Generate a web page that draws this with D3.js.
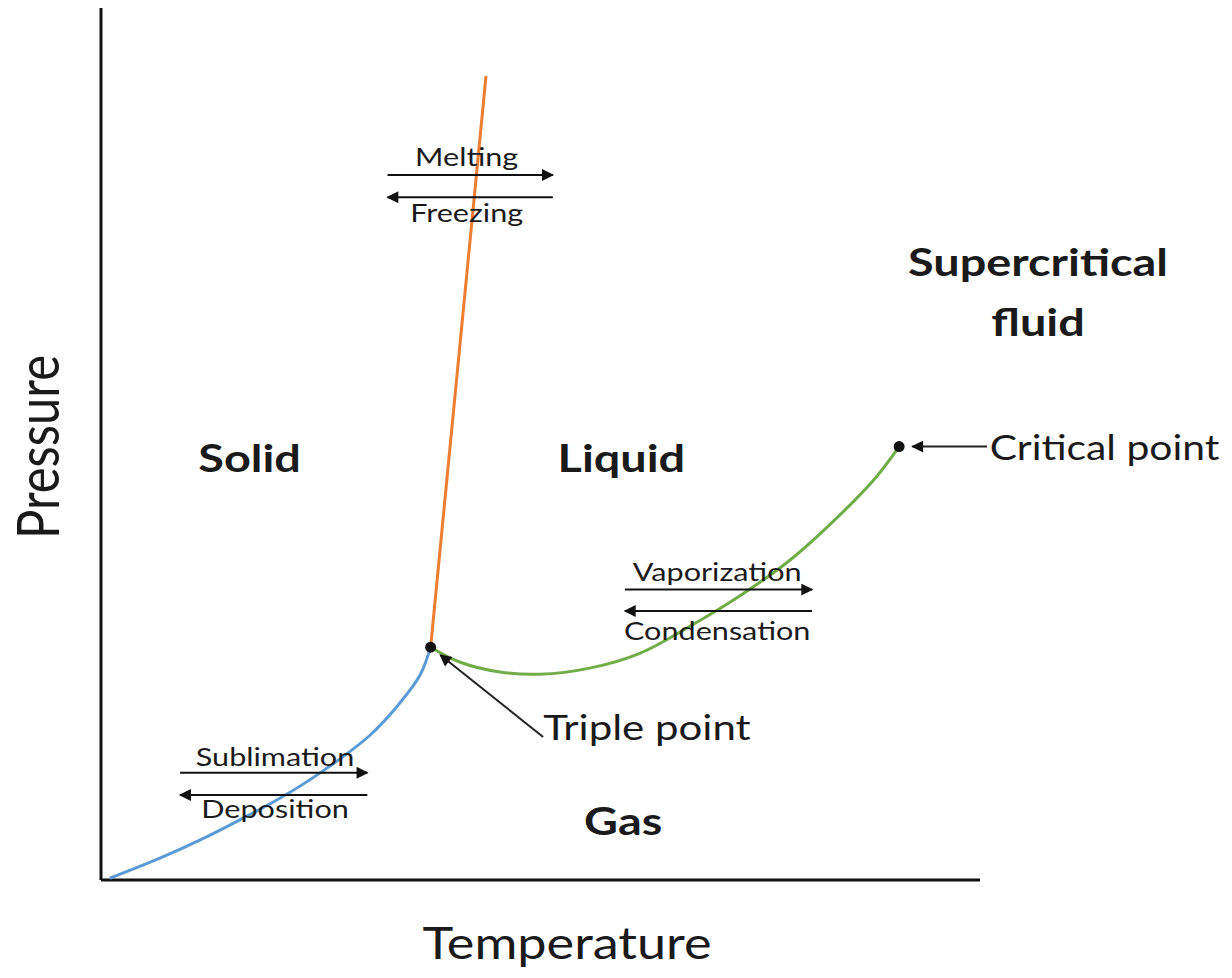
<!DOCTYPE html>
<html>
<head>
<meta charset="utf-8">
<script src="https://cdn.jsdelivr.net/npm/d3@7"></script>
<style>
  html, body { margin: 0; padding: 0; background: #fff; }
  svg text { font-family: Lato, "Open Sans", sans-serif; fill: #1a1a1a; }
</style>
</head>
<body>
<svg id="chart" width="1232" height="978"></svg>
<script>
// ---- Data (arbitrary units: temperature 0-100, pressure 0-100) ----
const sublimationCurve = [
  [1.0, 0.2], [6.7, 2.5], [11.3, 4.6], [15.8, 6.9], [20.4, 9.4],
  [25.1, 12.4], [30.6, 16.6], [34.0, 20.3], [36.3, 23.5], [37.5, 26.7]
];
const meltingCurve = [[37.5, 26.7], [43.8, 92.2]];
const vaporizationCurve = [
  [37.5, 26.7], [40.8, 25.0], [45.4, 23.85], [49.9, 23.6], [55.6, 24.3],
  [61.3, 26.0], [67.0, 29.1], [72.7, 32.6], [78.4, 36.7], [84.1, 41.9],
  [88.1, 46.1], [90.8, 49.7]
];
const specialPoints = [
  { name: "Triple point", t: 37.5, p: 26.7 },
  { name: "Critical point", t: 90.8, p: 49.7 }
];
const regionLabels = [
  { text: "Solid", t: 16.9, p: 46.8 },
  { text: "Liquid", t: 59.2, p: 46.8 },
  { text: "Gas", t: 59.4, p: 5.2 },
  { text: "Supercritical", t: 106.6, p: 69.3 },
  { text: "fluid", t: 106.6, p: 62.4 }
];
const processPairs = [
  { forward: "Melting", backward: "Freezing", t0: 32.6, t1: 51.4, pTop: 80.85, pBot: 78.3, tc: 41.6, pFwd: 81.9, pBack: 75.5 },
  { forward: "Vaporization", backward: "Condensation", t0: 59.6, t1: 80.9, pTop: 33.3, pBot: 30.85, tc: 70.1, pFwd: 34.3, pBack: 27.5 },
  { forward: "Sublimation", backward: "Deposition", t0: 9.0, t1: 30.3, pTop: 12.3, pBot: 9.75, tc: 19.8, pFwd: 13.1, pBack: 7.1 }
];
const pointCallouts = [
  { text: "Critical point", fromT: 100.8, fromP: 49.7, toT: 92.3, toP: 49.7, labelT: 101.1, labelP: 48.2 },
  { text: "Triple point", fromT: 50.3, fromP: 16.4, toT: 38.6, toP: 25.8, labelT: 50.3, labelP: 16.05 }
];
const axisTitles = { x: "Temperature", y: "Pressure" };

// ---- Layout ----
const svg = d3.select("#chart");
const x = d3.scaleLinear().domain([0, 100]).range([101, 980]);
const y = d3.scaleLinear().domain([0, 100]).range([880, 8]);
const SX = 1.2; // horizontal stretch of the original lettering

const defs = svg.append("defs");
defs.append("marker")
  .attr("id", "head").attr("viewBox", "0 0 10 10")
  .attr("refX", 9).attr("refY", 5)
  .attr("markerWidth", 13).attr("markerHeight", 12)
  .attr("markerUnits", "userSpaceOnUse")
  .attr("orient", "auto-start-reverse")
  .append("path").attr("d", "M0,0 L10,5 L0,10 Z").attr("fill", "#111");

// axes (plain lines, no ticks)
svg.append("line").attr("x1", x(0)).attr("x2", x(0)).attr("y1", y(100)).attr("y2", y(0))
  .attr("stroke", "#111").attr("stroke-width", 3);
svg.append("line").attr("x1", x(0)).attr("x2", x(100)).attr("y1", y(0)).attr("y2", y(0))
  .attr("stroke", "#111").attr("stroke-width", 3);

const line = d3.line().x(d => x(d[0])).y(d => y(d[1])).curve(d3.curveCatmullRom.alpha(0.5));

svg.append("path").datum(sublimationCurve).attr("d", line)
  .attr("fill", "none").attr("stroke", "#5b9bd5").attr("stroke-width", 3);
svg.append("path").datum(meltingCurve).attr("d", d3.line().x(d => x(d[0])).y(d => y(d[1])))
  .attr("fill", "none").attr("stroke", "#ed7d31").attr("stroke-width", 3);
svg.append("path").datum(vaporizationCurve).attr("d", line)
  .attr("fill", "none").attr("stroke", "#70ad47").attr("stroke-width", 3);

function stretchedText(g, tx, ty, str, size, weight, anchor) {
  return g.append("text")
    .attr("transform", `translate(${tx},${ty}) scale(${SX},1)`)
    .attr("text-anchor", anchor || "middle")
    .attr("font-size", size)
    .attr("font-weight", weight || 400)
    .text(str);
}

// process arrows
processPairs.forEach(d => {
  svg.append("line").attr("x1", x(d.t0)).attr("x2", x(d.t1)).attr("y1", y(d.pTop)).attr("y2", y(d.pTop))
    .attr("stroke", "#111").attr("stroke-width", 2).attr("marker-end", "url(#head)");
  svg.append("line").attr("x1", x(d.t1)).attr("x2", x(d.t0)).attr("y1", y(d.pBot)).attr("y2", y(d.pBot))
    .attr("stroke", "#111").attr("stroke-width", 2).attr("marker-end", "url(#head)");
  stretchedText(svg, x(d.tc), y(d.pFwd), d.forward, 25.5, 400);
  stretchedText(svg, x(d.tc), y(d.pBack), d.backward, 25.5, 400);
});

// callouts
pointCallouts.forEach(d => {
  svg.append("line").attr("x1", x(d.fromT)).attr("y1", y(d.fromP)).attr("x2", x(d.toT)).attr("y2", y(d.toP))
    .attr("stroke", "#222").attr("stroke-width", 2).attr("marker-end", "url(#head)");
  stretchedText(svg, x(d.labelT), y(d.labelP), d.text, d.text === "Triple point" ? 35 : 34, 400, "start");
});

// special points
svg.selectAll("circle.pt").data(specialPoints).join("circle")
  .attr("class", "pt").attr("cx", d => x(d.t)).attr("cy", d => y(d.p)).attr("r", 5.5).attr("fill", "#111");

// region labels
regionLabels.forEach(d => stretchedText(svg, x(d.t), y(d.p), d.text, 39, 700));

// axis titles
stretchedText(svg, 567, 959, axisTitles.x, 43.5, 400);
svg.append("text")
  .attr("transform", `translate(59,447) rotate(-90) scale(1,${SX})`)
  .attr("text-anchor", "middle").attr("font-size", 49)
  .text(axisTitles.y);
</script>
</body>
</html>
